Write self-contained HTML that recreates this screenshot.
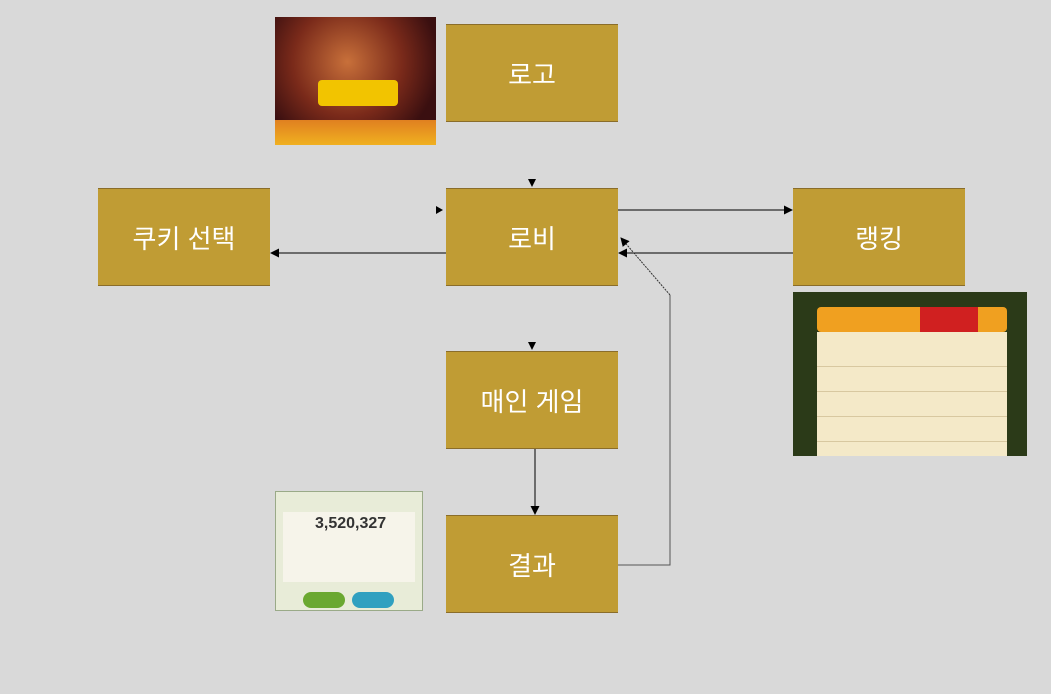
<!DOCTYPE html>
<html><head><meta charset="utf-8"><style>
body{margin:0;width:1051px;height:694px;background:#d9d9d9;position:relative;overflow:hidden;font-family:"Liberation Sans","Noto Sans CJK KR",sans-serif}
.b{position:absolute;width:172px;height:96px;background:#c09c34;border-top:1px solid #8a6d2a;border-bottom:1px solid #8a6d2a;color:#fff;font-size:26px;display:flex;align-items:center;justify-content:center}
.im{position:absolute}
.r{position:absolute;left:817px;width:190px;height:1px;background:#d8c8a0}
</style></head><body>
<div class="im" style="left:275px;top:17px;width:161px;height:128px;background:radial-gradient(circle at 45% 35%,#c8703a 0,#7a2a1a 45%,#3a0f10 75%),#401010"></div>
<div class="im" style="left:275px;top:120px;width:161px;height:25px;background:linear-gradient(#e08020,#f0b020)"></div>
<div class="im" style="left:318px;top:80px;width:80px;height:26px;background:#f2c400;border-radius:4px"></div>
<div class="im" style="left:793px;top:292px;width:234px;height:164px;background:#2b3a18"></div>
<div class="im" style="left:817px;top:307px;width:190px;height:25px;background:#f0a020;border-radius:4px"></div>
<div class="im" style="left:920px;top:307px;width:58px;height:25px;background:#d02020"></div>
<div class="im" style="left:817px;top:332px;width:190px;height:124px;background:#f4e9c8"></div>
<div class="r" style="top:366px"></div><div class="r" style="top:391px"></div><div class="r" style="top:416px"></div><div class="r" style="top:441px"></div>
<div class="im" style="left:275px;top:491px;width:148px;height:120px;background:#e8ecd8;border:1px solid #9aaa88;box-sizing:border-box"></div>
<div class="im" style="left:283px;top:512px;width:132px;height:70px;background:#f6f4ea"></div>
<div class="im" style="left:303px;top:592px;width:42px;height:16px;background:#6aa830;border-radius:8px"></div>
<div class="im" style="left:352px;top:592px;width:42px;height:16px;background:#30a0c0;border-radius:8px"></div>
<div class="im" style="left:315px;top:515px;font-size:16px;font-weight:bold;color:#333">3,520,327</div>
<div class="b" style="left:446px;top:24px">로고</div>
<div class="b" style="left:98px;top:188px">쿠키 선택</div>
<div class="b" style="left:446px;top:188px">로비</div>
<div class="b" style="left:793px;top:188px">랭킹</div>
<div class="b" style="left:446px;top:351px">매인 게임</div>
<div class="b" style="left:446px;top:515px">결과</div>
<svg width="1051" height="694" style="position:absolute;left:0;top:0">
<defs><marker id="a" markerWidth="9" markerHeight="9" refX="8" refY="4.5" orient="auto" markerUnits="userSpaceOnUse"><path d="M0,0L9,4.5L0,9z" fill="#000"/></marker></defs>
<path d="M528,179L536,179L532,187z" fill="#000"/>
<path d="M528,342L536,342L532,350z" fill="#000"/>
<path d="M436,206L436,214L443,210z" fill="#000"/>
<line x1="618" y1="210" x2="792" y2="210" stroke="#000" marker-end="url(#a)"/>
<line x1="793" y1="253" x2="619" y2="253" stroke="#000" marker-end="url(#a)"/>
<line x1="446" y1="253" x2="271" y2="253" stroke="#000" marker-end="url(#a)"/>
<line x1="535" y1="449" x2="535" y2="514" stroke="#000" marker-end="url(#a)"/>
<path d="M618,565L670,565L670,295" fill="none" stroke="#555"/>
<path d="M670,295L621,238" fill="none" stroke="#333" stroke-dasharray="2,1" marker-end="url(#a)"/>
</svg>
</body></html>
